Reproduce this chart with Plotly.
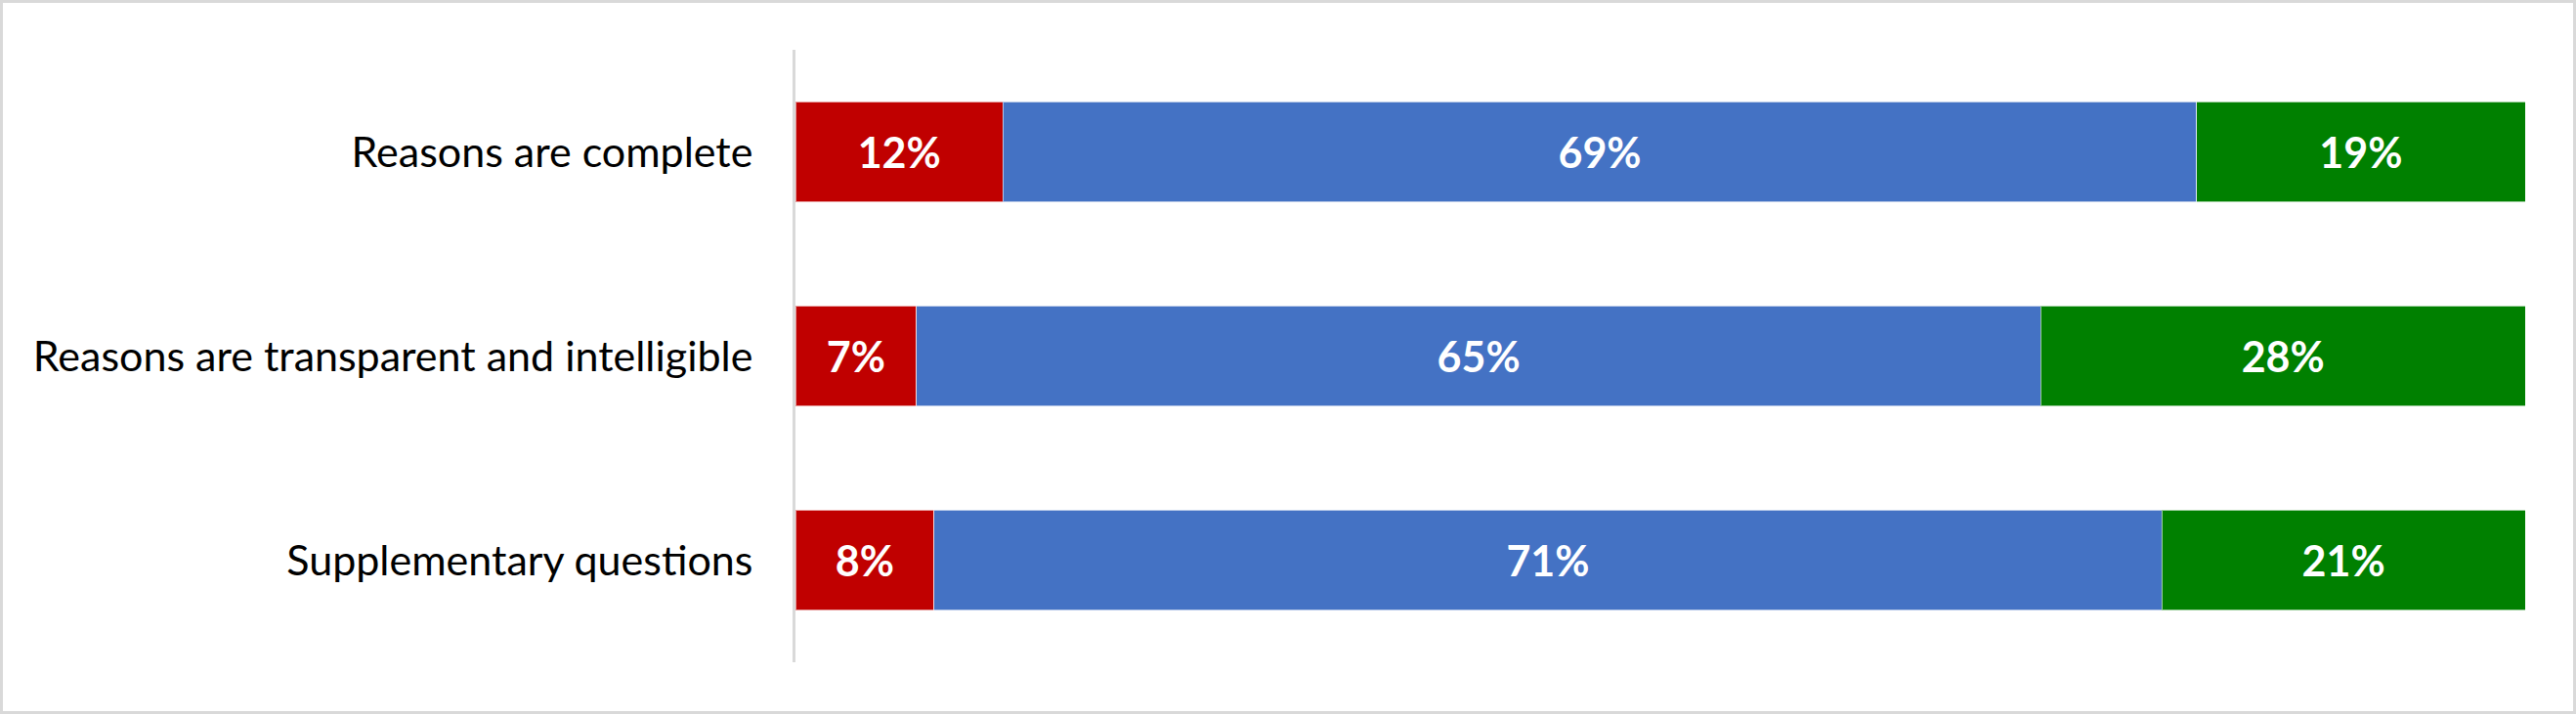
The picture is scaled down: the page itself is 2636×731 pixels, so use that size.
import plotly.graph_objects as go

# categories, top to bottom
categories = ['Reasons are complete',
              'Reasons are transparent and intelligible',
              'Supplementary questions']

series_names = ['Negative', 'Neutral', 'Positive']
negative = [12, 7, 8]
neutral = [69, 65, 71]
positive = [19, 28, 21]

colors = ['#C00000', '#4472C4', '#008000']

W, H = 2636, 731
L, R, T, B = 814, 52, 51, 53

fig = go.Figure()
for name, vals, col in zip(series_names, [negative, neutral, positive], colors):
    fig.add_trace(go.Bar(
        y=categories,
        x=vals,
        name=name,
        orientation='h',
        marker=dict(color=col, line=dict(color='rgba(255,255,255,0.6)', width=1)),
        text=[f'{v}%' for v in vals],
        textposition='inside',
        insidetextanchor='middle',
        textangle=0,
        textfont=dict(family='Lato', size=43, color='white', weight='bold'),
    ))

pw = W - L - R
ph = H - T - B
# outer light-grey frame around the whole chart
fig.add_shape(type='rect', xref='paper', yref='paper',
              x0=(1.5 - L) / pw, x1=(W - 1.5 - L) / pw,
              y0=-(B - 1.5) / ph, y1=(ph + T - 1.5) / ph,
              line=dict(color='#d9d9d9', width=3), layer='below')

fig.update_layout(
    barmode='stack',
    bargap=0.51,
    width=W, height=H,
    margin=dict(l=L, r=R, t=T, b=B),
    plot_bgcolor='white',
    paper_bgcolor='white',
    showlegend=False,
)
fig.update_xaxes(range=[0, 100], visible=False, showgrid=False)
fig.update_yaxes(
    categoryorder='array', categoryarray=categories, autorange='reversed',
    showline=True, linecolor='#d9d9d9', linewidth=3,
    showgrid=False, ticks='', ticklabelstandoff=32,
    tickfont=dict(family='Lato', size=43, color='black'),
)

# drop the browser's default body margin so the chart sits at the page corner
fig.write_html('out.html', config={'displayModeBar': False},
               post_script="document.body.style.margin='0';")
